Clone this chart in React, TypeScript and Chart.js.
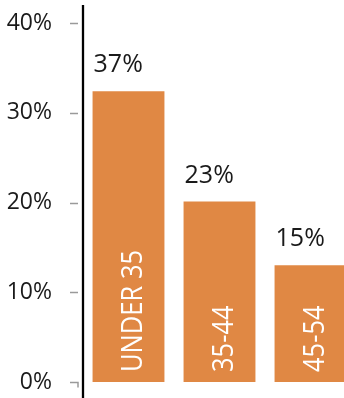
import React, { useEffect, useRef } from "react";
import { Chart, registerables } from "chart.js";

Chart.register(...registerables);

const categories = ["UNDER 35", "35-44", "45-54"];
const barValues = [32.4, 20.1, 13.0];
const valueLabels = ["37%", "23%", "15%"];
const yTicks = [0, 10, 20, 30, 40];

const BAR_COLOR = "#E08844";
const FONT = "'Open Sans', sans-serif";

const customPlugin = {
  id: "custom",
  afterDatasetsDraw(chart: any) {
    const ctx = chart.ctx;
    const meta = chart.getDatasetMeta(0);
    const yScale = chart.scales.y;
    ctx.save();
    meta.data.forEach((bar: any, i: number) => {
      const left = bar.x - bar.width / 2;
      ctx.fillStyle = "#1a1a1a";
      ctx.font = `25px ${FONT}`;
      ctx.textAlign = "left";
      ctx.textBaseline = "alphabetic";
      ctx.fillText(valueLabels[i], left + 1, bar.y - 19);

      ctx.save();
      ctx.translate(bar.x, bar.base - 10);
      ctx.rotate(-Math.PI / 2);
      ctx.scale(0.88, 1);
      ctx.fillStyle = "#ffffff";
      ctx.font = `29px ${FONT}`;
      ctx.textAlign = "left";
      ctx.textBaseline = "alphabetic";
      ctx.fillText(categories[i], 0, 13);
      ctx.restore();
    });
    const axisX = chart.chartArea.left;
    ctx.strokeStyle = "#000";
    ctx.lineWidth = 2.3;
    ctx.beginPath();
    ctx.moveTo(axisX, 5);
    ctx.lineTo(axisX, chart.height);
    ctx.stroke();
    ctx.strokeStyle = "#9a9a9a";
    ctx.lineWidth = 1.5;
    yTicks.forEach((v) => {
      const y = Math.round(yScale.getPixelForValue(v)) + 0.5;
      ctx.beginPath();
      ctx.moveTo(axisX - 13, y);
      ctx.lineTo(axisX - 5, y);
      if (v === 0) ctx.lineTo(axisX - 5, y + 5);
      ctx.stroke();
    });
    ctx.restore();
  },
};

export default function App() {
  const ref = useRef<HTMLCanvasElement | null>(null);
  useEffect(() => {
    if (!ref.current) return;
    const chart = new Chart(ref.current, {
      type: "bar",
      data: {
        labels: categories,
        datasets: [
          {
            data: barValues,
            backgroundColor: BAR_COLOR,
            borderWidth: 0,
            categoryPercentage: 1,
            barPercentage: 0.79,
          },
        ],
      },
      options: {
        animation: false,
        responsive: false,
        maintainAspectRatio: false,
        layout: { padding: { top: 23, right: 0, bottom: 16, left: 0 } },
        plugins: { legend: { display: false }, tooltip: { enabled: false } },
        scales: {
          x: { display: false },
          y: {
            min: 0,
            max: 40,
            afterFit: (scale: any) => {
              scale.width = 83;
            },
            grid: { display: false, drawTicks: true, tickLength: 31 },
            border: { display: false },
            ticks: {
              stepSize: 10,
              padding: 0,
              color: "#1a1a1a",
              font: { family: FONT, size: 23 },
              callback: (v: any) => `${v}%`,
            },
          },
        },
      },
      plugins: [customPlugin],
    });
    return () => chart.destroy();
  }, []);
  return (
    <div style={{ position: "absolute", left: 0, top: 0, width: 344, height: 398, overflow: "hidden", background: "#fff" }}>
      <canvas ref={ref} width={356} height={398} style={{ width: 356, height: 398, display: "block" }} />
    </div>
  );
}
